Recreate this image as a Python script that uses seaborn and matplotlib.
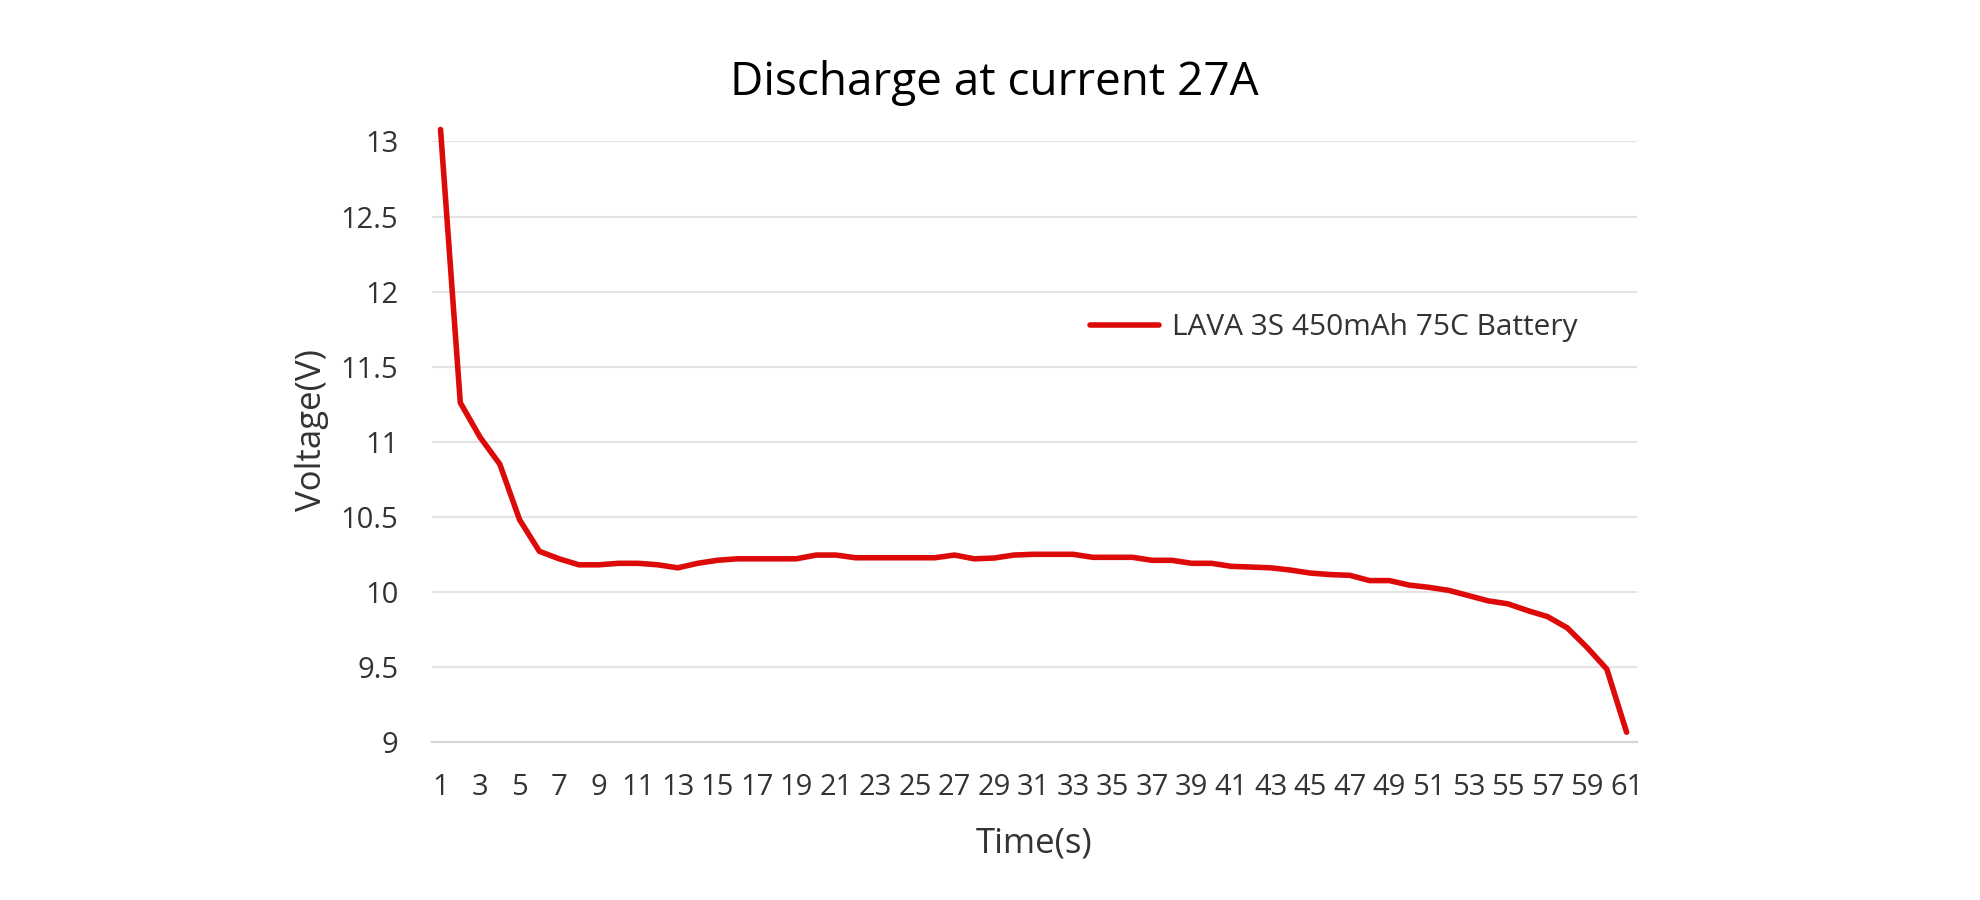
import numpy as np
import pandas as pd
import seaborn as sns
import matplotlib.pyplot as plt

# values
time_s = list(range(1, 62))
voltage = [
    13.08, 11.26, 11.03, 10.85, 10.48, 10.27, 10.22, 10.18, 10.18, 10.19,
    10.19, 10.18, 10.16, 10.19, 10.21, 10.22, 10.22, 10.22, 10.22, 10.245,
    10.245, 10.227, 10.227, 10.227, 10.227, 10.227, 10.245, 10.22, 10.225, 10.245,
    10.25, 10.25, 10.25, 10.23, 10.23, 10.23, 10.21, 10.21, 10.19, 10.19,
    10.17, 10.165, 10.16, 10.145, 10.125, 10.115, 10.11, 10.075, 10.075, 10.045,
    10.03, 10.01, 9.975, 9.94, 9.92, 9.875, 9.835, 9.76, 9.63, 9.485,
    9.065,
]
series_name = "LAVA 3S 450mAh 75C Battery"
y_ticks = [9, 9.5, 10, 10.5, 11, 11.5, 12, 12.5, 13]
y_tick_labels = ["9", "9.5", "10", "10.5", "11", "11.5", "12", "12.5", "13"]
x_ticks = list(range(1, 62, 2))

df = pd.DataFrame({"Time": time_s, "Voltage": voltage, "Series": series_name})

sns.set_theme(style="whitegrid")
plt.rcParams["font.family"] = ["Open Sans", "DejaVu Sans"]
text_color = "#333333"

fig = plt.figure(figsize=(19.8, 9), dpi=100)
ax = fig.add_axes([0.218, 0.1756, 0.609, 0.6672])

sns.lineplot(data=df, x="Time", y="Voltage", hue="Series", palette=["#dd0a0a"],
             linewidth=4, ax=ax, clip_on=False)
for ln in ax.lines:
    ln.set_solid_joinstyle("round")
    ln.set_solid_capstyle("round")

ax.set_xlim(0.55, 61.55)
ax.set_ylim(9, 13)
ax.set_yticks(y_ticks)
ax.set_yticklabels(y_tick_labels)
ax.set_xticks(x_ticks)
ax.set_xticklabels([str(t) for t in x_ticks])

ax.grid(axis="y", color="#e3e3e3", linewidth=1.5)
ax.grid(axis="x", visible=False)
for side in ["left", "right", "top"]:
    ax.spines[side].set_visible(False)
ax.spines["bottom"].set_color("#d4d4d4")
ax.spines["bottom"].set_linewidth(1.5)

ax.tick_params(axis="y", length=0, pad=24, labelsize=21, labelcolor=text_color)
ax.tick_params(axis="x", length=0, pad=22, labelsize=21, labelcolor=text_color)

ax.set_xlabel("Time(s)", fontsize=25, color=text_color, labelpad=18)
ax.set_ylabel("Voltage(V)", fontsize=25, color=text_color)
ax.yaxis.set_label_coords(-0.085, 0.52)

fig.text(0.502, 0.908, "Discharge at current 27A", ha="center", va="center",
         fontsize=33, color="black")

leg = ax.legend(loc="center left", bbox_to_anchor=(0.524, 0.69), frameon=False,
                fontsize=21.5, handlelength=2.3, handletextpad=0.45)
for t in leg.get_texts():
    t.set_color(text_color)

fig.savefig("out.png", dpi=100, facecolor="white")
